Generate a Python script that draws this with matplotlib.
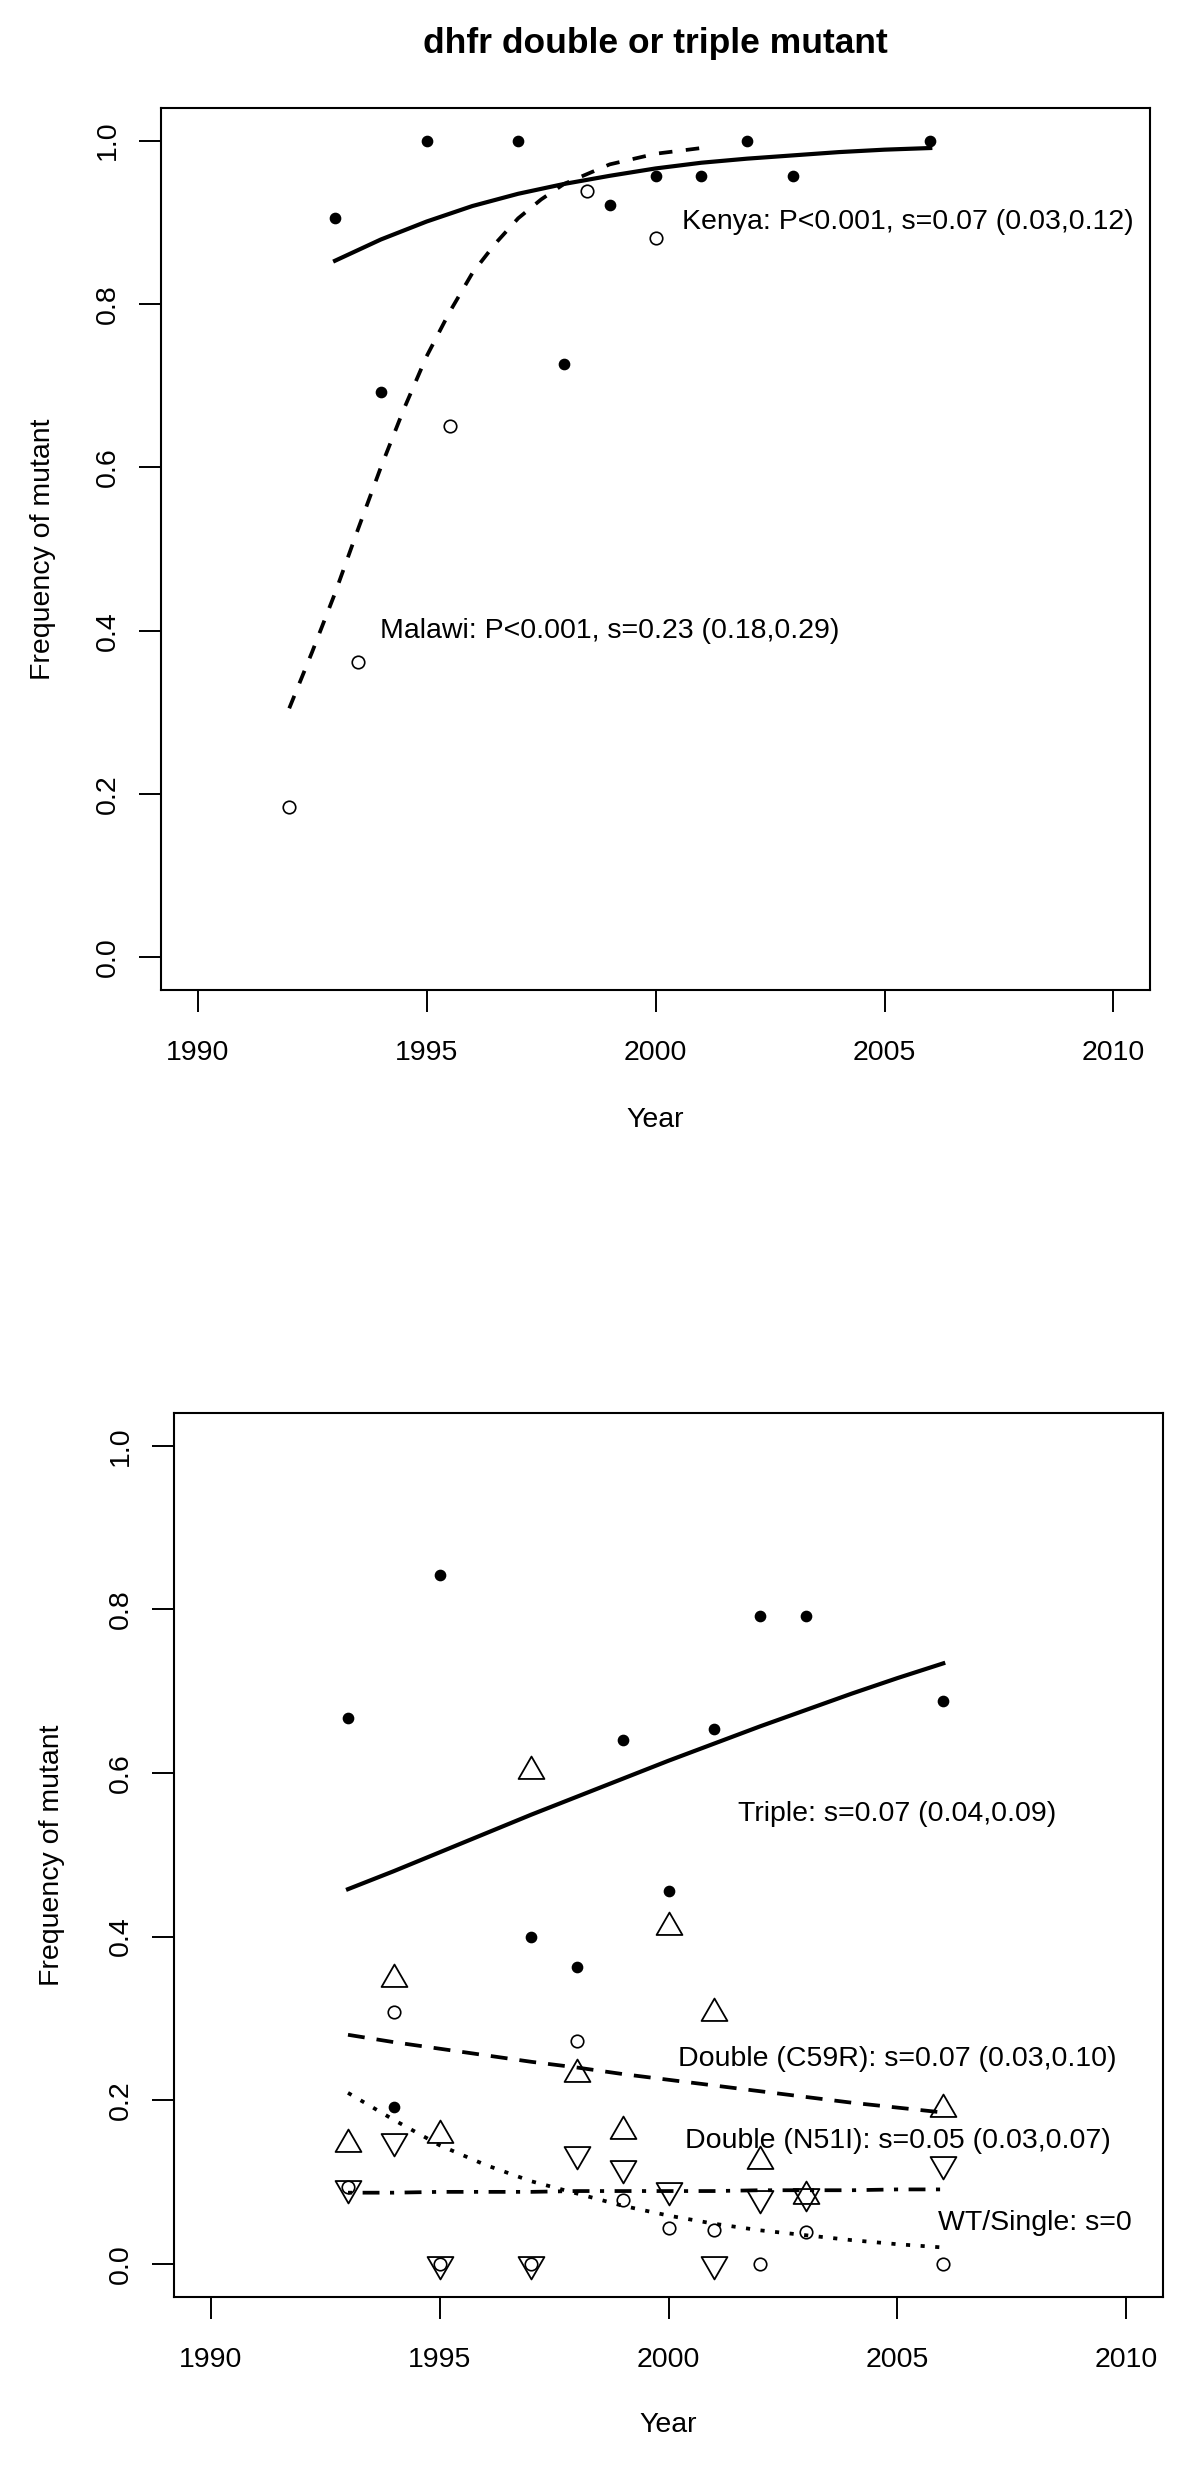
import numpy as np
import matplotlib
matplotlib.use("Agg")
import matplotlib.pyplot as plt
from matplotlib.path import Path

plt.rcParams['font.family'] = ['Liberation Sans', 'DejaVu Sans']

# ---- top panel : dhfr double or triple mutant, Kenya vs Malawi ----
years_kenya = [1993, 1994, 1995, 1997, 1998, 1999, 2000, 2001, 2002, 2003, 2006]
freq_kenya = [0.905, 0.692, 1.0, 1.0, 0.727, 0.921, 0.957, 0.957, 1.0, 0.957, 1.0]

years_malawi = [1992, 1993.5, 1995.5, 1998.5, 2000]
freq_malawi = [0.184, 0.362, 0.651, 0.939, 0.881]

# fitted curves
fit_years_kenya = [1993, 1994, 1995, 1996, 1997, 1998, 1999, 2000, 2001, 2002, 2003, 2004, 2005, 2006]
fit_kenya = [0.853, 0.879, 0.901, 0.920, 0.935, 0.947, 0.957, 0.966, 0.973, 0.978, 0.982, 0.986, 0.989, 0.991]

fit_years_malawi = [1992, 1992.5, 1993, 1993.5, 1994, 1994.5, 1995, 1995.5, 1996, 1996.5,
                    1997, 1997.5, 1998, 1999, 2000, 2001]
fit_malawi = [0.305, 0.374, 0.446, 0.524, 0.600, 0.671, 0.736, 0.790, 0.838, 0.874,
              0.905, 0.928, 0.947, 0.971, 0.984, 0.991]

# ---- bottom panel : genotypes in Kenya ----
years_b = [1993, 1994, 1995, 1997, 1998, 1999, 2000, 2001, 2002, 2003, 2006]
triple = [0.667, 0.192, 0.842, 0.400, 0.363, 0.640, 0.456, 0.654, 0.792, 0.792, 0.688]
c59r = [0.146, 0.348, 0.158, 0.603, 0.232, 0.163, 0.412, 0.307, 0.126, 0.083, 0.189]
n51i = [0.093, 0.150, 0.0, 0.0, 0.134, 0.117, 0.090, 0.0, 0.081, 0.083, 0.122]
wt_single = [0.094, 0.308, 0.0, 0.0, 0.272, 0.078, 0.044, 0.042, 0.0, 0.039, 0.0]

fit_years_b = [1993, 1994, 1995, 1996, 1997, 1998, 1999, 2000, 2001, 2002, 2003, 2004, 2005, 2006]
fit_triple = [0.458, 0.480, 0.503, 0.526, 0.549, 0.571, 0.593, 0.615, 0.636, 0.657, 0.677, 0.697, 0.716, 0.734]
fit_c59r = [0.280, 0.271, 0.263, 0.255, 0.247, 0.240, 0.232, 0.225, 0.218, 0.211, 0.204, 0.197, 0.191, 0.185]
fit_n51i = [0.087, 0.087, 0.088, 0.088, 0.088, 0.089, 0.089, 0.089, 0.089, 0.090, 0.090, 0.090, 0.091, 0.091]
fit_wt = [0.209, 0.176, 0.145, 0.121, 0.101, 0.086, 0.071, 0.059, 0.049, 0.041, 0.035, 0.029, 0.024, 0.020]

x_ticks = [1990, 1995, 2000, 2005, 2010]
y_ticks = [0.0, 0.2, 0.4, 0.6, 0.8, 1.0]

FS = 20.5
LW = 2.7

# R-like equilateral triangles (pch 2 and 6)
tri_up = Path([(-1, -0.577), (1, -0.577), (0, 1.155), (-1, -0.577)],
              [Path.MOVETO, Path.LINETO, Path.LINETO, Path.CLOSEPOLY])
tri_down = Path([(-1, 0.577), (1, 0.577), (0, -1.155), (-1, 0.577)],
                [Path.MOVETO, Path.LINETO, Path.LINETO, Path.CLOSEPOLY])


def style_axes(ax, ylab_x, xlab_y):
    ax.set_xlim(1989.2, 2010.8)
    ax.set_ylim(-0.04, 1.04)
    ax.set_xticks(x_ticks)
    ax.set_xticklabels([str(t) for t in x_ticks])
    ax.set_yticks(y_ticks)
    ax.set_yticklabels(["%.1f" % t for t in y_ticks], rotation=90, va="center")
    ax.tick_params(axis="x", length=16, width=1.4, pad=20, labelsize=FS)
    ax.tick_params(axis="y", length=16, width=1.4, pad=13, labelsize=FS)
    for sp in ax.spines.values():
        sp.set_linewidth(1.5)
    ax.set_xlabel("Year", fontsize=FS, va="center")
    ax.xaxis.set_label_coords(0.5, xlab_y)
    ax.set_ylabel("Frequency of mutant", fontsize=FS, va="center")
    ax.yaxis.set_label_coords(ylab_x, 0.5)


fig = plt.figure(figsize=(12, 24.66), dpi=100)

# top panel
ax1 = fig.add_axes([0.1342, 0.5985, 0.8242, 0.3577])
ax1.plot(fit_years_kenya, fit_kenya, color="black", lw=LW + 0.3)
ax1.plot(fit_years_malawi, fit_malawi, color="black", lw=LW, dashes=(3.6, 3.6))
ax1.plot(years_kenya, freq_kenya, "o", color="black", ms=7.4)
ax1.plot(years_malawi, freq_malawi, "o", mfc="white", mec="black", ms=9, mew=1.2)
ax1.text(2005.5, 0.90, "Kenya: P<0.001, s=0.07 (0.03,0.12)", fontsize=FS, ha="center", va="center")
ax1.text(1999, 0.40, "Malawi: P<0.001, s=0.23 (0.18,0.29)", fontsize=FS, ha="center", va="center")
style_axes(ax1, -0.1193, -0.147)

fig.text(655.5 / 1200, 1 - 44 / 2466, "dhfr double or triple mutant",
         fontsize=25.5, fontweight="bold", ha="center", va="center")

# bottom panel
ax2 = fig.add_axes([0.145, 0.0687, 0.8242, 0.3583])
ax2.plot(fit_years_b, fit_triple, color="black", lw=LW + 0.3)
ax2.plot(fit_years_b, fit_c59r, color="black", lw=LW, dashes=(4.5, 3.2))
ax2.plot(fit_years_b, fit_n51i, color="black", lw=LW, dashes=(1.1, 2.8, 4.5, 2.8))
ax2.plot(fit_years_b, fit_wt, color="black", lw=LW, dashes=(1.1, 2.8))
ax2.plot(years_b, triple, "o", color="black", ms=7.4)
ax2.plot(years_b, c59r, linestyle="none", marker=tri_up, mfc="none", mec="black", ms=21.5, mew=1.3)
ax2.plot(years_b, n51i, linestyle="none", marker=tri_down, mfc="none", mec="black", ms=21.5, mew=1.3)
ax2.plot(years_b, wt_single, "o", mfc="none", mec="black", ms=9, mew=1.2)
ax2.text(2005, 0.55, "Triple: s=0.07 (0.04,0.09)", fontsize=FS, ha="center", va="center")
ax2.text(2005, 0.25, "Double (C59R): s=0.07 (0.03,0.10)", fontsize=FS, ha="center", va="center")
ax2.text(2005, 0.15, "Double (N51I): s=0.05 (0.03,0.07)", fontsize=FS, ha="center", va="center")
ax2.text(2008, 0.05, "WT/Single: s=0", fontsize=FS, ha="center", va="center")
style_axes(ax2, -0.1234, -0.1454)

fig.savefig("out.png", dpi=100)
